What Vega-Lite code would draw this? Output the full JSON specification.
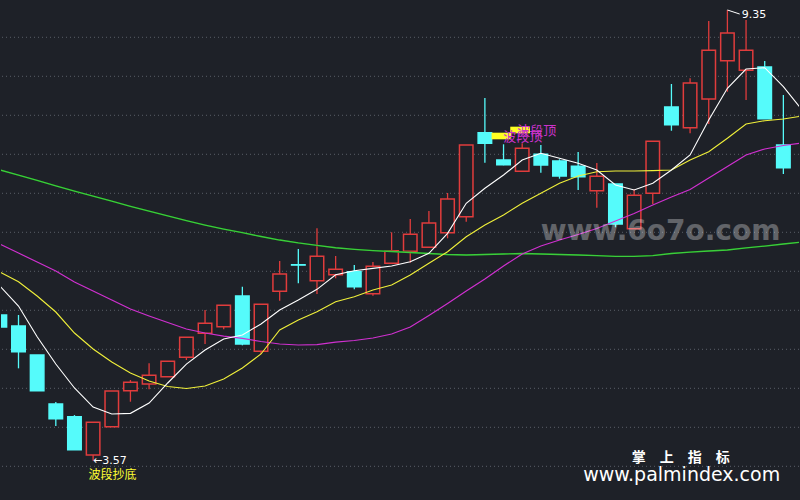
{
  "$schema": "https://vega.github.io/schema/vega-lite/v6.json",
  "width": 800,
  "height": 500,
  "autosize": {"type": "fit", "contains": "padding"},
  "padding": 0,
  "background": "#1e2128",
  "config": {"view": {"stroke": null}},
  "datasets": {
    "k": [
      {"i": -1, "o": 5.440, "h": 5.465, "l": 5.247, "c": 5.286, "d": "down"},
      {"i": 0, "o": 5.299, "h": 5.440, "l": 4.756, "c": 4.969, "d": "down"},
      {"i": 1, "o": 4.927, "h": 4.927, "l": 4.469, "c": 4.469, "d": "down"},
      {"i": 2, "o": 4.299, "h": 4.324, "l": 4.016, "c": 4.110, "d": "down"},
      {"i": 3, "o": 4.136, "h": 4.157, "l": 3.713, "c": 3.713, "d": "down"},
      {"i": 4, "o": 3.645, "h": 4.064, "l": 3.570, "c": 4.064, "d": "up"},
      {"i": 5, "o": 4.007, "h": 4.465, "l": 4.007, "c": 4.465, "d": "up"},
      {"i": 6, "o": 4.469, "h": 4.606, "l": 4.328, "c": 4.577, "d": "up"},
      {"i": 7, "o": 4.555, "h": 4.820, "l": 4.487, "c": 4.666, "d": "up"},
      {"i": 8, "o": 4.649, "h": 4.846, "l": 4.649, "c": 4.846, "d": "up"},
      {"i": 9, "o": 4.897, "h": 5.154, "l": 4.863, "c": 5.154, "d": "up"},
      {"i": 10, "o": 5.205, "h": 5.504, "l": 5.068, "c": 5.333, "d": "up"},
      {"i": 11, "o": 5.290, "h": 5.564, "l": 5.256, "c": 5.564, "d": "up"},
      {"i": 12, "o": 5.683, "h": 5.802, "l": 5.051, "c": 5.068, "d": "down"},
      {"i": 13, "o": 4.974, "h": 5.577, "l": 4.940, "c": 5.577, "d": "up"},
      {"i": 14, "o": 5.743, "h": 6.132, "l": 5.623, "c": 5.965, "d": "up"},
      {"i": 15, "o": 6.084, "h": 6.286, "l": 5.846, "c": 6.080, "d": "down"},
      {"i": 16, "o": 5.879, "h": 6.551, "l": 5.709, "c": 6.192, "d": "up"},
      {"i": 17, "o": 5.956, "h": 6.196, "l": 5.910, "c": 6.025, "d": "up"},
      {"i": 18, "o": 5.995, "h": 6.081, "l": 5.769, "c": 5.802, "d": "down"},
      {"i": 19, "o": 5.713, "h": 6.119, "l": 5.687, "c": 6.064, "d": "up"},
      {"i": 20, "o": 6.102, "h": 6.500, "l": 6.102, "c": 6.264, "d": "up"},
      {"i": 21, "o": 6.256, "h": 6.670, "l": 6.110, "c": 6.474, "d": "up"},
      {"i": 22, "o": 6.307, "h": 6.773, "l": 6.307, "c": 6.619, "d": "up"},
      {"i": 23, "o": 6.495, "h": 7.004, "l": 6.423, "c": 6.927, "d": "up"},
      {"i": 24, "o": 6.700, "h": 7.619, "l": 6.636, "c": 7.619, "d": "up"},
      {"i": 25, "o": 7.777, "h": 8.222, "l": 7.392, "c": 7.641, "d": "down"},
      {"i": 26, "o": 7.427, "h": 7.628, "l": 7.359, "c": 7.366, "d": "down"},
      {"i": 27, "o": 7.282, "h": 7.641, "l": 7.282, "c": 7.577, "d": "up"},
      {"i": 28, "o": 7.500, "h": 7.619, "l": 7.264, "c": 7.363, "d": "down"},
      {"i": 29, "o": 7.414, "h": 7.436, "l": 7.187, "c": 7.222, "d": "down"},
      {"i": 30, "o": 7.346, "h": 7.529, "l": 7.042, "c": 7.213, "d": "down"},
      {"i": 31, "o": 7.033, "h": 7.388, "l": 6.815, "c": 7.218, "d": "up"},
      {"i": 32, "o": 7.119, "h": 7.119, "l": 6.564, "c": 6.606, "d": "down"},
      {"i": 33, "o": 6.546, "h": 7.051, "l": 6.546, "c": 6.974, "d": "up"},
      {"i": 34, "o": 7.000, "h": 7.666, "l": 6.863, "c": 7.666, "d": "up"},
      {"i": 35, "o": 8.106, "h": 8.401, "l": 7.802, "c": 7.879, "d": "down"},
      {"i": 36, "o": 7.841, "h": 8.474, "l": 7.769, "c": 8.414, "d": "up"},
      {"i": 37, "o": 8.209, "h": 9.209, "l": 7.888, "c": 8.833, "d": "up"},
      {"i": 38, "o": 8.700, "h": 9.350, "l": 8.302, "c": 9.055, "d": "up"},
      {"i": 39, "o": 8.577, "h": 9.222, "l": 8.196, "c": 8.833, "d": "up"},
      {"i": 40, "o": 8.619, "h": 8.696, "l": 7.956, "c": 7.956, "d": "down"},
      {"i": 41, "o": 7.619, "h": 8.260, "l": 7.247, "c": 7.328, "d": "down"}
    ],
    "ma": [
      {"i": -1, "ma5": 5.811, "ma10": 5.991, "ma20": 6.350, "ma60": 7.299},
      {"i": 0, "ma5": 5.555, "ma10": 5.866, "ma20": 6.234, "ma60": 7.232},
      {"i": 1, "ma5": 5.161, "ma10": 5.683, "ma20": 6.119, "ma60": 7.164},
      {"i": 2, "ma5": 4.811, "ma10": 5.478, "ma20": 6.004, "ma60": 7.096},
      {"i": 3, "ma5": 4.504, "ma10": 5.209, "ma20": 5.863, "ma60": 7.029},
      {"i": 4, "ma5": 4.260, "ma10": 5.004, "ma20": 5.747, "ma60": 6.963},
      {"i": 5, "ma5": 4.170, "ma10": 4.837, "ma20": 5.632, "ma60": 6.899},
      {"i": 6, "ma5": 4.179, "ma10": 4.696, "ma20": 5.516, "ma60": 6.833},
      {"i": 7, "ma5": 4.311, "ma10": 4.593, "ma20": 5.427, "ma60": 6.770},
      {"i": 8, "ma5": 4.568, "ma10": 4.523, "ma20": 5.343, "ma60": 6.709},
      {"i": 9, "ma5": 4.811, "ma10": 4.497, "ma20": 5.260, "ma60": 6.649},
      {"i": 10, "ma5": 4.991, "ma10": 4.529, "ma20": 5.209, "ma60": 6.593},
      {"i": 11, "ma5": 5.132, "ma10": 4.619, "ma20": 5.170, "ma60": 6.542},
      {"i": 12, "ma5": 5.183, "ma10": 4.760, "ma20": 5.141, "ma60": 6.495},
      {"i": 13, "ma5": 5.324, "ma10": 4.940, "ma20": 5.100, "ma60": 6.446},
      {"i": 14, "ma5": 5.504, "ma10": 5.247, "ma20": 5.068, "ma60": 6.401},
      {"i": 15, "ma5": 5.632, "ma10": 5.375, "ma20": 5.055, "ma60": 6.363},
      {"i": 16, "ma5": 5.769, "ma10": 5.482, "ma20": 5.061, "ma60": 6.331},
      {"i": 17, "ma5": 5.956, "ma10": 5.610, "ma20": 5.093, "ma60": 6.302},
      {"i": 18, "ma5": 6.007, "ma10": 5.674, "ma20": 5.113, "ma60": 6.282},
      {"i": 19, "ma5": 6.038, "ma10": 5.760, "ma20": 5.145, "ma60": 6.266},
      {"i": 20, "ma5": 6.068, "ma10": 5.824, "ma20": 5.196, "ma60": 6.254},
      {"i": 21, "ma5": 6.123, "ma10": 5.952, "ma20": 5.286, "ma60": 6.241},
      {"i": 22, "ma5": 6.231, "ma10": 6.102, "ma20": 5.433, "ma60": 6.228},
      {"i": 23, "ma5": 6.487, "ma10": 6.251, "ma20": 5.587, "ma60": 6.215},
      {"i": 24, "ma5": 6.872, "ma10": 6.443, "ma20": 5.747, "ma60": 6.209},
      {"i": 25, "ma5": 7.064, "ma10": 6.593, "ma20": 5.901, "ma60": 6.215},
      {"i": 26, "ma5": 7.234, "ma10": 6.722, "ma20": 6.068, "ma60": 6.222},
      {"i": 27, "ma5": 7.427, "ma10": 6.872, "ma20": 6.222, "ma60": 6.228},
      {"i": 28, "ma5": 7.513, "ma10": 7.000, "ma20": 6.324, "ma60": 6.222},
      {"i": 29, "ma5": 7.449, "ma10": 7.128, "ma20": 6.401, "ma60": 6.215},
      {"i": 30, "ma5": 7.384, "ma10": 7.222, "ma20": 6.472, "ma60": 6.209},
      {"i": 31, "ma5": 7.299, "ma10": 7.277, "ma20": 6.549, "ma60": 6.202},
      {"i": 32, "ma5": 7.106, "ma10": 7.286, "ma20": 6.645, "ma60": 6.190},
      {"i": 33, "ma5": 7.042, "ma10": 7.286, "ma20": 6.741, "ma60": 6.192},
      {"i": 34, "ma5": 7.128, "ma10": 7.290, "ma20": 6.850, "ma60": 6.202},
      {"i": 35, "ma5": 7.299, "ma10": 7.299, "ma20": 6.952, "ma60": 6.228},
      {"i": 36, "ma5": 7.491, "ma10": 7.427, "ma20": 7.049, "ma60": 6.247},
      {"i": 37, "ma5": 7.940, "ma10": 7.533, "ma20": 7.196, "ma60": 6.260},
      {"i": 38, "ma5": 8.346, "ma10": 7.705, "ma20": 7.343, "ma60": 6.273},
      {"i": 39, "ma5": 8.593, "ma10": 7.888, "ma20": 7.491, "ma60": 6.299},
      {"i": 40, "ma5": 8.610, "ma10": 7.931, "ma20": 7.568, "ma60": 6.324},
      {"i": 41, "ma5": 8.366, "ma10": 7.952, "ma20": 7.613, "ma60": 6.350},
      {"i": 42, "ma5": 8.068, "ma10": 7.991, "ma20": 7.645, "ma60": 6.375}
    ]
  },
  "encoding": {
    "x": {"field": "i", "type": "quantitative", "scale": {"domain": [-0.67, 41.57], "nice": false, "zero": false}, "axis": null}
  },
  "layer": [
    {
      "data": {"values": [{"g": 3.5}, {"g": 4.0}, {"g": 4.5}, {"g": 5.0}, {"g": 5.5}, {"g": 6.0}, {"g": 6.5}, {"g": 7.0}, {"g": 7.5}, {"g": 8.0}, {"g": 8.5}, {"g": 9.0}]},
      "mark": {"type": "rule", "color": "#5a5f68", "strokeDash": [1, 3], "strokeWidth": 1},
      "encoding": {
        "x": null,
        "y": {"field": "g", "type": "quantitative", "scale": {"domain": [3.068, 9.478], "nice": false, "zero": false}, "axis": null}
      }
    },
    {
      "data": {"name": "k"},
      "mark": {"type": "rule", "strokeWidth": 1.3, "clip": true},
      "encoding": {
        "y": {"field": "l", "type": "quantitative", "scale": {"domain": [3.068, 9.478], "nice": false, "zero": false}, "axis": null},
        "y2": {"field": "h"},
        "stroke": {"field": "d", "type": "nominal", "scale": {"domain": ["up", "down"], "range": ["#e03c3c", "#55fbfb"]}, "legend": null}
      }
    },
    {
      "data": {"name": "k"},
      "mark": {"type": "bar", "size": 13.5, "strokeWidth": 1.5, "clip": true},
      "encoding": {
        "y": {"field": "o", "type": "quantitative", "scale": {"domain": [3.068, 9.478], "nice": false, "zero": false}, "axis": null},
        "y2": {"field": "c"},
        "stroke": {"field": "d", "type": "nominal", "scale": {"domain": ["up", "down"], "range": ["#e03c3c", "#55fbfb"]}, "legend": null},
        "fill": {"field": "d", "type": "nominal", "scale": {"domain": ["up", "down"], "range": ["#1e2128", "#55fbfb"]}, "legend": null}
      }
    },
    {
      "data": {"name": "ma"},
      "mark": {"type": "line", "color": "#0e4a12", "strokeWidth": 1.5, "clip": true, "dy": 1},
      "encoding": {"y": {"field": "ma60", "type": "quantitative", "scale": {"domain": [3.068, 9.478], "nice": false, "zero": false}, "axis": null}}
    },
    {
      "data": {"name": "ma"},
      "mark": {"type": "line", "color": "#3ccc3c", "strokeWidth": 1.3, "clip": true},
      "encoding": {"y": {"field": "ma60", "type": "quantitative", "scale": {"domain": [3.068, 9.478], "nice": false, "zero": false}, "axis": null}}
    },
    {
      "data": {"name": "ma"},
      "mark": {"type": "line", "color": "#d030d0", "strokeWidth": 1.2, "clip": true},
      "encoding": {"y": {"field": "ma20", "type": "quantitative", "scale": {"domain": [3.068, 9.478], "nice": false, "zero": false}, "axis": null}}
    },
    {
      "data": {"name": "ma"},
      "mark": {"type": "line", "color": "#f0f03a", "strokeWidth": 1.1, "clip": true},
      "encoding": {"y": {"field": "ma10", "type": "quantitative", "scale": {"domain": [3.068, 9.478], "nice": false, "zero": false}, "axis": null}}
    },
    {
      "data": {"name": "ma"},
      "mark": {"type": "line", "color": "#ffffff", "strokeWidth": 1.1, "clip": true},
      "encoding": {"y": {"field": "ma5", "type": "quantitative", "scale": {"domain": [3.068, 9.478], "nice": false, "zero": false}, "axis": null}}
    },
    {
      "data": {"values": [
        {"i": 25.36, "i2": 26.41, "p": 7.777, "p2": 7.692},
        {"i": 26.36, "i2": 27.42, "p": 7.854, "p2": 7.769}
      ]},
      "mark": {"type": "rect", "color": "#ffff22"},
      "encoding": {
        "x2": {"field": "i2"},
        "y": {"field": "p", "type": "quantitative", "scale": {"domain": [3.068, 9.478], "nice": false, "zero": false}, "axis": null},
        "y2": {"field": "p2"}
      }
    },
    {
      "data": {"values": [
        {"i": 25.99, "p": 7.725, "t": "波段顶"},
        {"i": 26.73, "p": 7.802, "t": "波段顶"}
      ]},
      "mark": {"type": "text", "align": "left", "baseline": "middle", "font": "Noto Sans CJK SC", "fontSize": 13, "color": "#cc33cc"},
      "encoding": {
        "y": {"field": "p", "type": "quantitative", "scale": {"domain": [3.068, 9.478], "nice": false, "zero": false}, "axis": null},
        "text": {"field": "t"}
      }
    },
    {
      "data": {"values": [{"i": 38, "p": 9.35, "i2": 38.66, "p2": 9.298}]},
      "mark": {"type": "rule", "color": "#ffffff", "strokeWidth": 1},
      "encoding": {
        "x2": {"field": "i2"},
        "y": {"field": "p", "type": "quantitative", "scale": {"domain": [3.068, 9.478], "nice": false, "zero": false}, "axis": null},
        "y2": {"field": "p2"}
      }
    },
    {
      "data": {"values": [
        {"i": 38.77, "p": 9.286, "t": "9.35"},
        {"i": 4.0, "p": 3.57, "t": "←3.57"}
      ]},
      "mark": {"type": "text", "align": "left", "baseline": "middle", "font": "DejaVu Sans", "fontSize": 11, "color": "#ffffff"},
      "encoding": {
        "y": {"field": "p", "type": "quantitative", "scale": {"domain": [3.068, 9.478], "nice": false, "zero": false}, "axis": null},
        "text": {"field": "t"}
      }
    },
    {
      "data": {"values": [{"i": 3.75, "p": 3.388, "t": "波段抄底"}]},
      "mark": {"type": "text", "align": "left", "baseline": "middle", "font": "Noto Sans CJK SC", "fontSize": 12, "color": "#ffff33"},
      "encoding": {
        "y": {"field": "p", "type": "quantitative", "scale": {"domain": [3.068, 9.478], "nice": false, "zero": false}, "axis": null},
        "text": {"field": "t"}
      }
    },
    {
      "data": {"values": [{"i": 28.0, "p": 6.504, "t": "www.6o7o.com"}]},
      "mark": {"type": "text", "align": "left", "baseline": "middle", "font": "DejaVu Sans", "fontWeight": "bold", "fontSize": 28, "color": "#ffffff", "opacity": 0.3},
      "encoding": {
        "y": {"field": "p", "type": "quantitative", "scale": {"domain": [3.068, 9.478], "nice": false, "zero": false}, "axis": null},
        "text": {"field": "t"}
      }
    },
    {
      "data": {"values": [{"i": 35.5, "p": 3.606, "t": "掌　上　指　标"}]},
      "mark": {"type": "text", "align": "center", "baseline": "middle", "font": "Noto Sans CJK SC", "fontWeight": "bold", "fontSize": 14, "color": "#ffffff"},
      "encoding": {
        "y": {"field": "p", "type": "quantitative", "scale": {"domain": [3.068, 9.478], "nice": false, "zero": false}, "axis": null},
        "text": {"field": "t"}
      }
    },
    {
      "data": {"values": [{"i": 35.55, "p": 3.388, "t": "www.palmindex.com"}]},
      "mark": {"type": "text", "align": "center", "baseline": "middle", "font": "DejaVu Sans", "fontSize": 19, "color": "#ffffff"},
      "encoding": {
        "y": {"field": "p", "type": "quantitative", "scale": {"domain": [3.068, 9.478], "nice": false, "zero": false}, "axis": null},
        "text": {"field": "t"}
      }
    }
  ]
}
